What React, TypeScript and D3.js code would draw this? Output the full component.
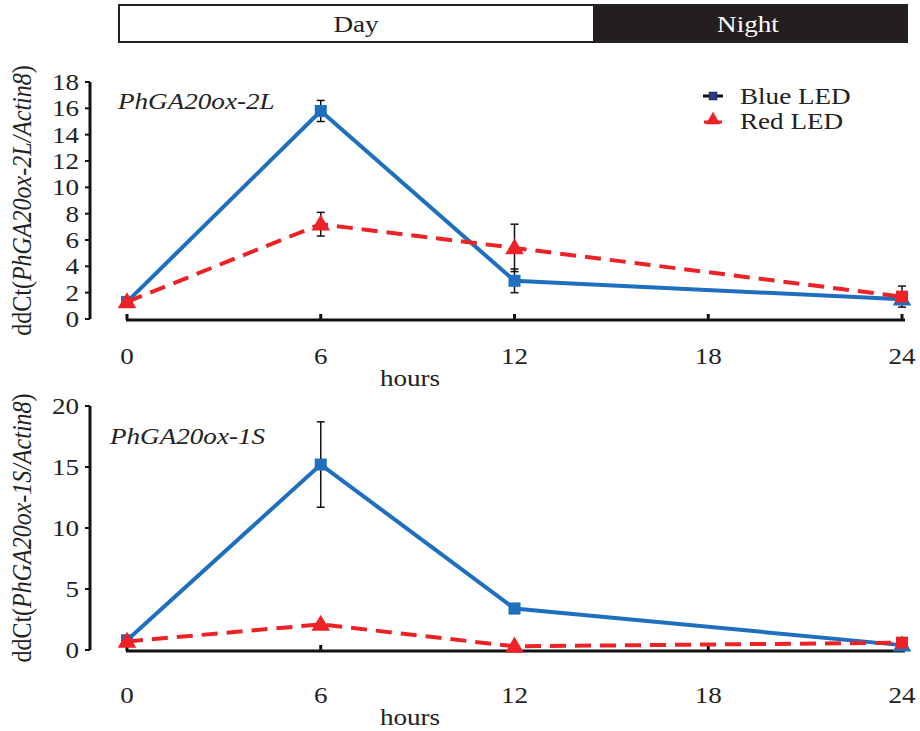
import React from 'react';
import * as d3 from 'd3';

// sampling times (hours) and axis ticks
const hours = [0, 6, 12, 24];
const xTicks = [0, 6, 12, 18, 24];

// PhGA20ox-2L
const blue2L = [1.3, 15.8, 2.9, 1.5];
const blue2LErr = [0.15, 0.8, 0.9, 0.3];
const red2L = [1.3, 7.2, 5.4, 1.7];
const red2LErr = [0.15, 0.9, 1.8, 0.8];
const ticks2L = [0, 2, 4, 6, 8, 10, 12, 14, 16, 18];

// PhGA20ox-1S
const blue1S = [0.8, 15.2, 3.4, 0.4];
const blue1SErr = [0.1, 3.5, 0.4, 0.1];
const red1S = [0.7, 2.1, 0.3, 0.6];
const red1SErr = [0.1, 0.2, 0.1, 0.1];
const ticks1S = [0, 5, 10, 15, 20];

// marker shape per point (the last point swaps in the original figure)
const blueMarkers = ['square', 'square', 'square', 'triangle'];
const redMarkers = ['triangle', 'triangle', 'triangle', 'square'];

const BLUE = '#1f6fbf';
const RED = '#ec2227';
const FONT = "'Liberation Serif', 'DejaVu Serif', serif";
const SX = 1.13; // the original figure's text is a little wide

const xScale = d3.scaleLinear().domain([0, 24]).range([127, 902]);

// horizontally stretched text
function T({ x, y, anchor = 'start', italic = false, fill = '#222', size = 24, children }) {
  return (
    <text
      transform={`translate(${x} ${y}) scale(${SX} 1)`}
      textAnchor={anchor}
      fontSize={size}
      fontStyle={italic ? 'italic' : undefined}
      fill={fill}
    >
      {children}
    </text>
  );
}

function Marker({ shape, x, y, color }) {
  if (shape === 'square') {
    return <rect x={x - 6} y={y - 6} width={12} height={12} fill={color} />;
  }
  const tri = d3.symbol(d3.symbolTriangle, 150)();
  return <path d={tri} transform={`translate(${x},${y + 1})`} fill={color} />;
}

function Panel({ yMax, yTop, yBottom, yTicks, blue, blueErr, red, redErr, title, titleX, titleY, gene, hoursY }) {
  const yScale = d3.scaleLinear().domain([0, yMax]).range([yBottom, yTop]);
  const line = d3
    .line()
    .x((d) => xScale(d[0]))
    .y((d) => yScale(d[1]));
  const axisY = yBottom + 1;
  const series = [
    { vals: blue, errs: blueErr, color: BLUE, dash: null, markers: blueMarkers },
    { vals: red, errs: redErr, color: RED, dash: '16 9', markers: redMarkers },
  ];
  const midY = (yTop + yBottom) / 2;
  return (
    <g>
      {/* y axis */}
      <path d={`M90 ${yScale(yMax)} V ${yBottom}`} stroke="#111" strokeWidth={3} fill="none" />
      {yTicks.map((t) => (
        <g key={t}>
          <path d={`M85 ${yScale(t)} H 90`} stroke="#111" strokeWidth={2} />
          <T x={79} y={yScale(t) + 8} anchor="end">
            {t}
          </T>
        </g>
      ))}
      {/* x axis */}
      <path d={`M126 ${axisY} H 905`} stroke="#111" strokeWidth={3} fill="none" />
      {xTicks.map((t) => (
        <g key={t}>
          <path d={`M${xScale(t)} ${axisY} V ${axisY - 6}`} stroke="#111" strokeWidth={3} />
          <T x={xScale(t)} y={hoursY - 22} anchor="middle">
            {t}
          </T>
        </g>
      ))}
      <T x={410} y={hoursY} anchor="middle">
        hours
      </T>
      {/* y label */}
      <text
        transform={`translate(31 ${midY}) rotate(-90) scale(1 ${SX})`}
        textAnchor="middle"
        fontSize={24}
        fill="#222"
      >
        ddCt(<tspan fontStyle="italic">{gene}/Actin8</tspan>)
      </text>
      <T x={titleX} y={titleY} italic>
        {title}
      </T>
      {/* error bars */}
      {series.map((s, si) =>
        s.vals.map((v, i) => {
          const x = xScale(hours[i]);
          const y1 = yScale(v + s.errs[i]);
          const y2 = yScale(Math.max(0, v - s.errs[i]));
          return (
            <g key={`${si}-${i}`} stroke="#111" strokeWidth={1.5}>
              <path d={`M${x} ${y1} V ${y2}`} />
              <path d={`M${x - 4} ${y1} H ${x + 4}`} />
              <path d={`M${x - 4} ${y2} H ${x + 4}`} />
            </g>
          );
        })
      )}
      {/* lines and markers */}
      {series.map((s, si) => (
        <g key={si}>
          <path
            d={line(s.vals.map((v, i) => [hours[i], v]))}
            stroke={s.color}
            strokeWidth={4}
            strokeDasharray={s.dash || undefined}
            fill="none"
          />
          {s.vals.map((v, i) => (
            <Marker key={i} shape={s.markers[i]} x={xScale(hours[i])} y={yScale(v)} color={s.color} />
          ))}
        </g>
      ))}
    </g>
  );
}

export default function App() {
  const tri = d3.symbol(d3.symbolTriangle, 90)();
  return (
    <svg
      width={920}
      height={731}
      style={{ position: 'absolute', left: 0, top: 0, background: '#fff', fontFamily: FONT }}
    >
      {/* day / night bar */}
      <rect x={119} y={5} width={475} height={37} fill="#fff" stroke="#222" strokeWidth={2} />
      <rect x={594} y={5} width={313} height={37} fill="#231f20" stroke="#222" strokeWidth={2} />
      <T x={356} y={32} anchor="middle">
        Day
      </T>
      <T x={748} y={32} anchor="middle" fill="#fff">
        Night
      </T>

      <Panel
        yMax={18}
        yTop={82}
        yBottom={319}
        yTicks={ticks2L}
        blue={blue2L}
        blueErr={blue2LErr}
        red={red2L}
        redErr={red2LErr}
        title="PhGA20ox-2L"
        titleX={118}
        titleY={109}
        gene="PhGA20ox-2L"
        hoursY={386}
      />
      <Panel
        yMax={20}
        yTop={406}
        yBottom={650}
        yTicks={ticks1S}
        blue={blue1S}
        blueErr={blue1SErr}
        red={red1S}
        redErr={red1SErr}
        title="PhGA20ox-1S"
        titleX={110}
        titleY={444}
        gene="PhGA20ox-1S"
        hoursY={725}
      />

      {/* legend */}
      <path d="M703 96 H 723" stroke="#111" strokeWidth={3} />
      <rect x={709} y={92} width={8} height={8} fill="#2b3990" stroke="#111" strokeWidth={0.5} />
      <T x={740} y={104}>
        Blue LED
      </T>
      <path d="M704 122 H 710 M716 122 H 722" stroke={RED} strokeWidth={3} />
      <path d={tri} transform="translate(713 120)" fill={RED} />
      <T x={740} y={129}>
        Red LED
      </T>
    </svg>
  );
}
